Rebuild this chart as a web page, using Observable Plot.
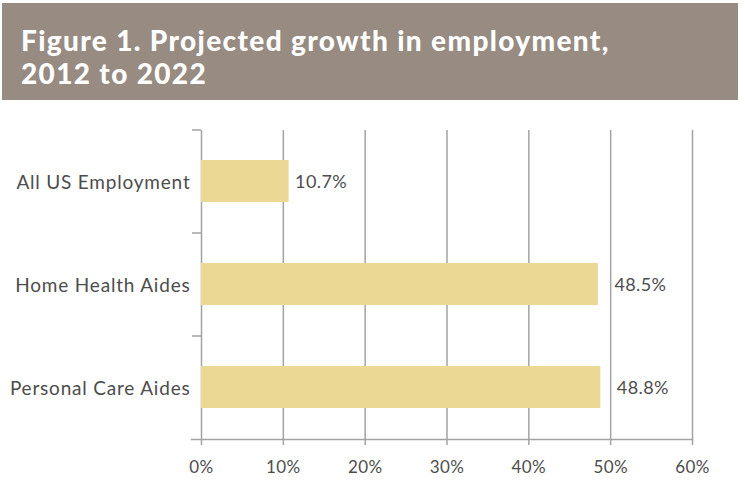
<!DOCTYPE html>
<html>
<head>
<meta charset="utf-8">
<script src="https://cdn.jsdelivr.net/npm/d3@7"></script>
<script src="https://cdn.jsdelivr.net/npm/@observablehq/plot@0.6"></script>
<style>
  html, body { margin: 0; padding: 0; background: #fff; width: 745px; height: 497px; overflow: hidden; }
  #title {
    position: absolute; left: 2px; top: 3px; width: 736px; height: 97px;
    background: #978b82; color: #fff; box-sizing: border-box;
    font-family: Lato, sans-serif; font-weight: 900; font-size: 28px;
    line-height: 33px; padding: 21px 0 0 19px; letter-spacing: 1.35px;
  }
  #chart { position: absolute; left: 0; top: 100px; }
  #chart svg text { letter-spacing: 0.4px; }
  #chart svg g[aria-label="y-axis tick label"] text { letter-spacing: 0.8px; }
</style>
</head>
<body>
<div id="title">Figure 1. Projected growth in employment,<br>2012 to 2022</div>
<div id="chart"></div>
<script>
const categories = ["All US Employment", "Home Health Aides", "Personal Care Aides"];
const values = [10.7, 48.5, 48.8];
const xTicks = [0, 10, 20, 30, 40, 50, 60];

const data = categories.map((c, i) => ({category: c, value: values[i]}));
const font = "Lato, sans-serif";
const grey = "#a3a3a3";
const textColor = "#4d4d4d";

const chart = Plot.plot({
  width: 745,
  height: 397,
  marginTop: 30,
  marginBottom: 58,
  marginLeft: 201,
  marginRight: 53,
  style: {fontFamily: font, fontSize: "18px", color: textColor, background: "transparent"},
  x: {domain: [0, 60], ticks: xTicks, label: null},
  y: {domain: categories, paddingInner: 0.59, paddingOuter: 0.295, label: null},
  marks: [
    Plot.gridX(xTicks, {stroke: grey, strokeOpacity: 1, strokeWidth: 1.5, insetBottom: -6}),
    Plot.frame({anchor: "bottom", stroke: grey, strokeWidth: 1.5, insetLeft: -10}),
    Plot.axisX({ticks: xTicks, tickFormat: d => d + "%", tickSize: 0, tickPadding: 21, fontSize: 17, fill: textColor}),
    Plot.axisY({tickSize: 9, tickFormat: () => "", dy: -51.5, stroke: grey, strokeWidth: 1.5}),
    Plot.axisY({tickSize: 0, tickPadding: 11, dy: 1.5, fontSize: 19, fill: textColor}),
    Plot.barX(data, {x: "value", y: "category", fill: "#ecd895"}),
    Plot.text(data, {filter: d => d.value < 40, x: "value", y: "category", text: d => d.value.toFixed(1) + "%", textAnchor: "start", dx: 6, dy: 1, fontSize: 18, fill: textColor}),
    Plot.text(data, {filter: d => d.value >= 40, x: "value", y: "category", text: d => d.value.toFixed(1) + "%", textAnchor: "start", dx: 16, dy: 1, fontSize: 18, fill: textColor})
  ]
});
document.getElementById("chart").appendChild(chart);
</script>
</body>
</html>
